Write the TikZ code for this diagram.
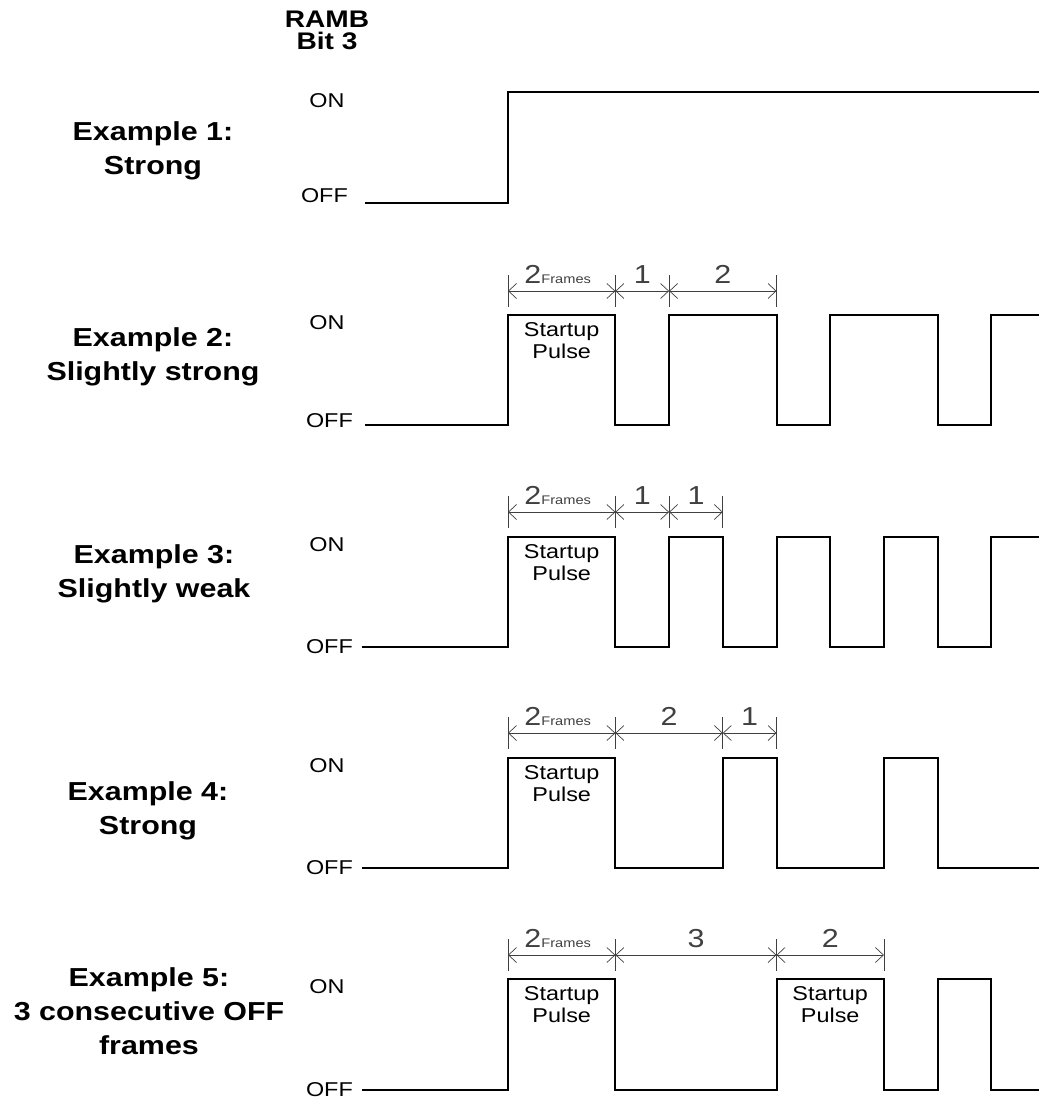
\documentclass[tikz,border=0pt]{standalone}
\usepackage{fontspec}
\setmainfont{Liberation Sans}[FakeStretch=1.17]
\usetikzlibrary{arrows.meta, calc}

\newcommand{\framesize}{\fontsize{12.5}{14}\selectfont}

\begin{document}
\begin{tikzpicture}[
    x=1pt, y=-1pt,
    every node/.style={inner sep=0pt},
    title/.style={font=\bfseries\fontsize{24}{22}\selectfont, align=center, anchor=north},
    example/.style={font=\bfseries\fontsize{26}{34}\selectfont, align=center, anchor=north},
    level/.style={font=\fontsize{20}{22}\selectfont, anchor=base},
    pulse/.style={font=\fontsize{20}{22}\selectfont, align=center, anchor=north},
    count/.style={font=\fontsize{26}{28}\selectfont, anchor=base, yshift=8pt},
    wave/.style={line width=2pt},
    dim/.style={line width=0.7pt, black!75, {Straight Barb[length=8pt,width=15pt]}-{Straight Barb[length=8pt,width=15pt]}},
    tick/.style={line width=0.7pt, black!75}
]

\useasboundingbox (0,0) rectangle (1039,1099);

% Frame grid
\def\xo{508}
\def\fw{53.7}

% Labels
\node (title) [title] at (327,11) {RAMB\\Bit 3};

\node (ex1) [example] at (153,121) {Example 1:\\Strong};
\node (ex2) [example] at (153,327) {Example 2:\\Slightly strong};
\node (ex3) [example] at (154,544) {Example 3:\\Slightly weak};
\node (ex4) [example] at (148,781) {Example 4:\\Strong};
\node (ex5) [example] at (149,967) {Example 5:\\3 consecutive OFF\\frames};

\node (on1) [level] at (327,108) {ON};
\node (off1) [level, anchor=base east] at (348,203) {OFF};
\node (on2) [level] at (327,329) {ON};
\node (off2) [level, anchor=base east] at (353,427) {OFF};
\node (on3) [level] at (327,551.5) {ON};
\node (off3) [level, anchor=east] at (353,647) {OFF};
\node (on4) [level] at (327,772.5) {ON};
\node (off4) [level, anchor=east] at (353,868) {OFF};
\node (on5) [level] at (327,993) {ON};
\node (off5) [level, anchor=east] at (353,1090) {OFF};

\node (sp2) [pulse] at ({\xo+\fw},322) {Startup\\Pulse};
\node (sp3) [pulse] at ({\xo+\fw},544) {Startup\\Pulse};
\node (sp4) [pulse] at ({\xo+\fw},765) {Startup\\Pulse};
\node (sp5) [pulse] at ({\xo+\fw},986) {Startup\\Pulse};
\node (sp5b) [pulse] at ({\xo+6*\fw},986) {Startup\\Pulse};

% Waveforms
\draw[wave] (365,203) -- (\xo,203) -- (\xo,92) -- (1039,92);
\draw[wave] (365,425) -- (\xo,425) |- ({\xo+2*\fw},315) |- ({\xo+3*\fw},425)
    |- ({\xo+5*\fw},315) |- ({\xo+6*\fw},425) |- ({\xo+8*\fw},315)
    |- ({\xo+9*\fw},425) |- (1039,315);
\draw[wave] (362,647) -- (\xo,647) |- ({\xo+2*\fw},537) |- ({\xo+3*\fw},647)
    |- ({\xo+4*\fw},537) |- ({\xo+5*\fw},647) |- ({\xo+6*\fw},537)
    |- ({\xo+7*\fw},647) |- ({\xo+8*\fw},537) |- ({\xo+9*\fw},647)
    |- (1039,537);
\draw[wave] (362,868) -- (\xo,868) |- ({\xo+2*\fw},758) |- ({\xo+4*\fw},868)
    |- ({\xo+5*\fw},758) |- ({\xo+7*\fw},868) |- ({\xo+8*\fw},758)
    |- (1039,868);
\draw[wave] (362,1090) -- (\xo,1090) |- ({\xo+2*\fw},979) |- ({\xo+5*\fw},1090)
    |- ({\xo+7*\fw},979) |- ({\xo+8*\fw},1090) |- ({\xo+9*\fw},979)
    |- (1039,1090);

% Dimension marks
\coordinate (d2a) at (\xo,291);
\coordinate (d2b) at ({\xo+2*\fw},291);
\coordinate (d2c) at ({\xo+3*\fw},291);
\coordinate (d2d) at ({\xo+5*\fw},291);

\coordinate (d3a) at (\xo,512);
\coordinate (d3b) at ({\xo+2*\fw},512);
\coordinate (d3c) at ({\xo+3*\fw},512);
\coordinate (d3d) at ({\xo+4*\fw},512);

\coordinate (d4a) at (\xo,733);
\coordinate (d4b) at ({\xo+2*\fw},733);
\coordinate (d4c) at ({\xo+4*\fw},733);
\coordinate (d4d) at ({\xo+5*\fw},733);

\coordinate (d5a) at (\xo,955);
\coordinate (d5b) at ({\xo+2*\fw},955);
\coordinate (d5c) at ({\xo+5*\fw},955);
\coordinate (d5d) at ({\xo+7*\fw},955);

\draw[tick] ([yshift=16pt]d2a) -- ([yshift=-16pt]d2a) ([yshift=16pt]d2b) -- ([yshift=-16pt]d2b)
    ([yshift=16pt]d2c) -- ([yshift=-16pt]d2c) ([yshift=16pt]d2d) -- ([yshift=-16pt]d2d);
\draw[tick] ([yshift=16pt]d3a) -- ([yshift=-16pt]d3a) ([yshift=16pt]d3b) -- ([yshift=-16pt]d3b)
    ([yshift=16pt]d3c) -- ([yshift=-16pt]d3c) ([yshift=16pt]d3d) -- ([yshift=-16pt]d3d);
\draw[tick] ([yshift=16pt]d4a) -- ([yshift=-16pt]d4a) ([yshift=16pt]d4b) -- ([yshift=-16pt]d4b)
    ([yshift=16pt]d4c) -- ([yshift=-16pt]d4c) ([yshift=16pt]d4d) -- ([yshift=-16pt]d4d);
\draw[tick] ([yshift=16pt]d5a) -- ([yshift=-16pt]d5a) ([yshift=16pt]d5b) -- ([yshift=-16pt]d5b)
    ([yshift=16pt]d5c) -- ([yshift=-16pt]d5c) ([yshift=16pt]d5d) -- ([yshift=-16pt]d5d);

\draw[dim] (d2a) -- node (f2) [count, xshift=-4pt] {2{\framesize Frames}} (d2b);
\draw[dim] (d2b) -- node (n2a) [count] {1} (d2c);
\draw[dim] (d2c) -- node (n2b) [count] {2} (d2d);

\draw[dim] (d3a) -- node (f3) [count, xshift=-4pt] {2{\framesize Frames}} (d3b);
\draw[dim] (d3b) -- node (n3a) [count] {1} (d3c);
\draw[dim] (d3c) -- node (n3b) [count] {1} (d3d);

\draw[dim] (d4a) -- node (f4) [count, xshift=-4pt] {2{\framesize Frames}} (d4b);
\draw[dim] (d4b) -- node (n4a) [count] {2} (d4c);
\draw[dim] (d4c) -- node (n4b) [count] {1} (d4d);

\draw[dim] (d5a) -- node (f5) [count, xshift=-4pt] {2{\framesize Frames}} (d5b);
\draw[dim] (d5b) -- node (n5a) [count] {3} (d5c);
\draw[dim] (d5c) -- node (n5b) [count] {2} (d5d);

\end{tikzpicture}
\end{document}
